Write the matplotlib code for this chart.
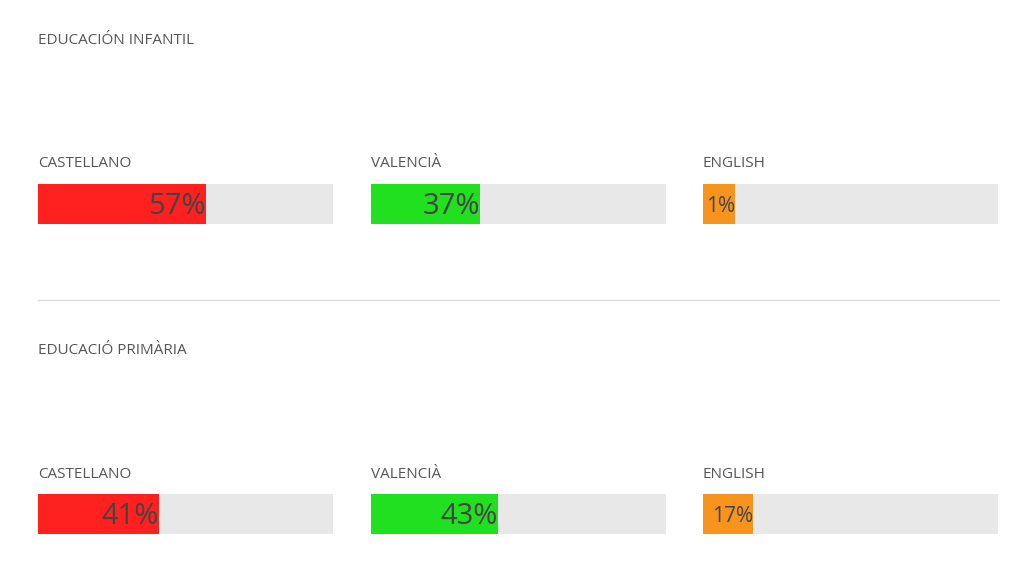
import matplotlib
matplotlib.use("Agg")
import matplotlib.pyplot as plt

# data
sections = ["EDUCACIÓN INFANTIL", "EDUCACIÓ PRIMÀRIA"]
languages = ["CASTELLANO", "VALENCIÀ", "ENGLISH"]
infantil = [57, 37, 1]
primaria = [41, 43, 17]
values = [infantil, primaria]
colors = ["#ff2020", "#20e020", "#f7941d"]

plt.rcParams['font.family'] = ['Open Sans', 'DejaVu Sans']

W, H = 1024, 573
fig = plt.figure(figsize=(W / 100, H / 100), dpi=100)
fig.patch.set_facecolor("white")

def fx(px):
    return px / W

def fy(py):
    return 1 - py / H

# layout in pixels
col_left = [38, 371, 703]
bar_w = 295
bar_h = 40
sec_top = [0, 310]   # offset of each section
min_fill = 11        # fill is widened so small labels fit

for s, sec in enumerate(sections):
    off = sec_top[s]
    fig.text(fx(38), fy(41 + off), sec, fontsize=11, color="#555555",
             va="center", ha="left")
    for j, lang in enumerate(languages):
        v = values[s][j]
        fig.text(fx(col_left[j]), fy(164 + off), lang, fontsize=11,
                 color="#555555", va="center", ha="left")
        ax = fig.add_axes([fx(col_left[j]), fy(224 + off), fx(bar_w), bar_h / H])
        ax.barh(0, 100, height=1, color="#e8e8e8", left=0)
        fill = max(v, min_fill)
        ax.barh(0, fill, height=1, color=colors[j], left=0)
        big = v >= 30
        ax.text(fill, -0.05, f"{v}%", ha="right", va="center",
                fontsize=21 if big else 15, color="#444444")
        ax.set_xlim(0, 100)
        ax.set_ylim(-0.5, 0.5)
        ax.axis("off")
    if s == 0:
        fig.add_artist(plt.Line2D([fx(38), fx(999)], [fy(300), fy(300)],
                                  color="#dddddd", lw=1))

fig.savefig("out.png", dpi=100, facecolor="white")
